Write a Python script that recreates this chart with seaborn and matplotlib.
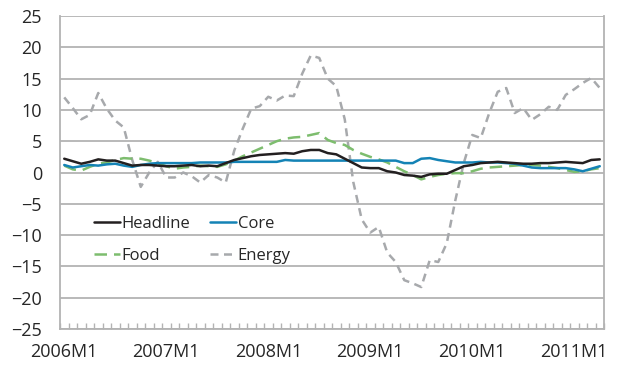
import numpy as np
import pandas as pd
import seaborn as sns
from matplotlib import pyplot as plt
from matplotlib.ticker import FixedLocator

# monthly data 2006M1 - 2011M4, y/y % change
headline = [2.2, 1.8, 1.4, 1.7, 2.1, 1.9, 1.9, 1.5, 1.1, 1.2, 1.2, 1.1,
            1.0, 1.0, 1.1, 1.2, 1.0, 1.1, 1.0, 1.5, 2.0, 2.3, 2.6, 2.8,
            2.9, 3.0, 3.1, 3.0, 3.4, 3.6, 3.6, 3.1, 2.9, 2.2, 1.5, 0.8,
            0.7, 0.7, 0.2, 0.0, -0.4, -0.5, -0.7, -0.3, -0.2, -0.2, 0.4, 1.0,
            1.2, 1.5, 1.6, 1.7, 1.6, 1.5, 1.4, 1.4, 1.5, 1.5, 1.6, 1.7,
            1.6, 1.5, 2.0, 2.1]
core = [1.2, 0.8, 1.0, 1.2, 1.1, 1.3, 1.4, 1.1, 0.9, 1.2, 1.4, 1.5,
        1.5, 1.5, 1.5, 1.5, 1.6, 1.6, 1.6, 1.6, 1.7, 1.7, 1.7, 1.7,
        1.7, 1.7, 2.0, 1.9, 1.9, 1.9, 1.9, 1.9, 1.9, 1.9, 1.9, 1.9,
        1.9, 1.9, 1.9, 1.9, 1.5, 1.5, 2.2, 2.3, 2.0, 1.8, 1.6, 1.6,
        1.6, 1.7, 1.6, 1.6, 1.5, 1.4, 1.1, 0.8, 0.7, 0.7, 0.7, 0.7,
        0.5, 0.2, 0.6, 1.0]
food = [1.1, 0.5, 0.3, 0.9, 1.4, 1.6, 2.0, 2.3, 2.2, 2.2, 1.9, 1.5,
        1.0, 0.6, 0.8, 0.9, 1.1, 1.0, 0.9, 1.3, 1.9, 2.6, 3.2, 3.8,
        4.4, 5.0, 5.4, 5.6, 5.7, 6.0, 6.3, 5.2, 4.7, 4.4, 3.6, 3.0,
        2.5, 2.1, 1.6, 0.9, 0.2, -0.4, -1.1, -0.7, -0.4, -0.2, -0.1, -0.1,
        0.2, 0.6, 0.8, 0.9, 1.0, 1.1, 1.2, 1.2, 1.1, 0.9, 0.7, 0.4,
        0.1, 0.2, 0.5, 0.7]
energy = [12.0, 10.3, 8.5, 9.2, 12.7, 10.2, 8.3, 7.2, 2.0, -2.3, 0.0, 1.7,
          -0.8, -0.8, 0.0, -0.6, -1.6, -0.4, -0.8, -1.6, 3.5, 7.0, 10.2, 10.6,
          12.1, 11.5, 12.3, 12.2, 15.8, 18.7, 18.3, 15.0, 13.8, 8.5, -1.5, -7.5,
          -9.6, -8.7, -12.8, -14.3, -17.2, -17.7, -18.3, -14.0, -14.3, -11.3, -4.5, 1.5,
          6.0, 5.5, 9.5, 12.9, 13.5, 9.5, 10.3, 8.4, 9.3, 10.5, 10.0, 12.4,
          13.3, 14.3, 15.1, 13.5]
tick_labels = ["2006M1", "2007M1", "2008M1", "2009M1", "2010M1", "2011M1"]

months = np.arange(len(headline))
data = pd.DataFrame({"month": months, "Headline": headline, "Core": core,
                     "Food": food, "Energy": energy})


def plot_data(data, filename):
    sns.set_style("white")
    plt.rcParams["font.family"] = ["Open Sans", "DejaVu Sans"]
    fig = plt.figure(figsize=(6.18, 3.65), dpi=100)
    ax = fig.add_axes([60 / 618, 36 / 365, 544 / 618, 313 / 365])

    grid_col = "#b3b3b3"
    for y in range(-25, 30, 5):
        ax.axhline(y, color=grid_col, linewidth=1.3, zorder=0)

    sns.lineplot(data=data, x="month", y="Energy", ax=ax, color="#a7a9ac",
                 linewidth=1.8, linestyle=(0, (3.2, 2.2)), label="Energy")
    sns.lineplot(data=data, x="month", y="Food", ax=ax, color="#7dbd6e",
                 linewidth=1.8, linestyle=(0, (5, 2.8)), label="Food")
    sns.lineplot(data=data, x="month", y="Core", ax=ax, color="#1483b5",
                 linewidth=1.8, label="Core")
    sns.lineplot(data=data, x="month", y="Headline", ax=ax, color="#231f20",
                 linewidth=1.8, label="Headline")

    ax.set_xlim(-0.5, len(data) - 0.5)
    ax.set_ylim(-25, 25)
    ax.set_yticks(range(-25, 30, 5))
    ax.set_xticks(range(0, len(data), 12))
    ax.set_xticklabels(tick_labels)
    ax.xaxis.set_minor_locator(FixedLocator(np.arange(-0.5, len(data), 1)))
    ax.tick_params(axis="x", which="major", length=0, pad=10, labelsize=13)
    ax.tick_params(axis="x", which="minor", direction="in", length=4,
                   width=1, color=grid_col, bottom=True)
    ax.tick_params(axis="y", length=0, pad=13, labelsize=13)
    ax.set_xlabel("")
    ax.set_ylabel("")
    for side in ["left", "right", "bottom"]:
        ax.spines[side].set_color(grid_col)
        ax.spines[side].set_linewidth(1.3)
    ax.spines["top"].set_visible(False)

    h, l = ax.get_legend_handles_labels()
    order = [l.index(n) for n in ["Headline", "Food", "Core", "Energy"]]
    ax.legend([h[i] for i in order], [l[i] for i in order], ncol=2,
              loc="upper left", bbox_to_anchor=(0.035, 0.41), frameon=False,
              fontsize=12, handlelength=1.55, handletextpad=0.1,
              columnspacing=1.2, labelspacing=0.95)

    plt.savefig(filename, dpi=100)


plot_data(data, "out.png")
